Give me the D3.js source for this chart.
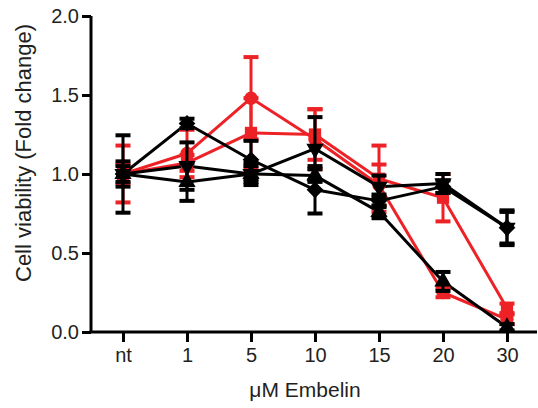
<!DOCTYPE html>
<html>
<head>
<meta charset="utf-8">
<script src="https://cdn.jsdelivr.net/npm/d3@7"></script>
<style>
  html, body { margin: 0; padding: 0; background: #fff; }
  svg { display: block; }
  text { font-family: "Liberation Sans", Arial, Helvetica, sans-serif; fill: #231f20; }
</style>
</head>
<body>
<svg id="chart" width="538" height="408"></svg>
<script>
// ---- Data ----
const categories = ["nt", "1", "5", "10", "15", "20", "30"];
const yTicks = [0.0, 0.5, 1.0, 1.5, 2.0];

const redCircleMean = [1.00, 1.13, 1.48, 1.22, 0.93, 0.25, 0.08];
const redCircleErr  = [0.06, 0.15, 0.26, 0.19, 0.13, 0.03, 0.03];

const redSquareMean = [1.00, 1.07, 1.26, 1.25, 0.97, 0.85, 0.15];
const redSquareErr  = [0.18, 0.05, 0.22, 0.16, 0.21, 0.15, 0.03];

const blackDiamondMean = [1.00, 1.32, 1.09, 0.90, 0.83, 0.92, 0.66];
const blackDiamondErr  = [0.08, 0.03, 0.12, 0.15, 0.04, 0.04, 0.11];

const blackDownMean = [1.00, 1.05, 1.00, 1.16, 0.92, 0.94, 0.66];
const blackDownErr  = [0.245, 0.15, 0.05, 0.20, 0.07, 0.06, 0.10];

const blackUpMean = [1.00, 0.95, 1.00, 0.99, 0.76, 0.32, 0.03];
const blackUpErr  = [0.05, 0.12, 0.07, 0.04, 0.04, 0.06, 0.02];

const RED = "#ed2227";
const BLACK = "#000000";

const series = [
  { mean: redSquareMean, err: redSquareErr, color: RED, shape: "square" },
  { mean: redCircleMean, err: redCircleErr, color: RED, shape: "circle" },
  { mean: blackUpMean, err: blackUpErr, color: BLACK, shape: "up" },
  { mean: blackDownMean, err: blackDownErr, color: BLACK, shape: "down" },
  { mean: blackDiamondMean, err: blackDiamondErr, color: BLACK, shape: "diamond" }
];

// ---- Layout ----
const svg = d3.select("#chart");
const x = d3.scalePoint().domain(categories).range([123, 507]);
const y = d3.scaleLinear().domain([0, 2]).range([332, 16]);
const axisLeftX = 91;
const axisY = 332;

// Axes
const yAxis = d3.axisLeft(y).tickValues(yTicks).tickFormat(d3.format(".1f")).tickSize(9).tickPadding(3);
const gy = svg.append("g").attr("transform", `translate(${axisLeftX},0)`).call(yAxis);
gy.select(".domain").attr("stroke", "#000").attr("stroke-width", 3).attr("d", `M0,${y(2)}V${axisY}`);
gy.selectAll(".tick line").attr("stroke", "#000").attr("stroke-width", 3);
gy.selectAll(".tick text").attr("font-size", 20).attr("fill", "#231f20")
  .style("font-family", '"Liberation Sans", Arial, sans-serif');

const xAxis = d3.axisBottom(x).tickSize(10).tickPadding(6);
const gx = svg.append("g").attr("transform", `translate(0,${axisY})`).call(xAxis);
gx.select(".domain").attr("stroke", "#000").attr("stroke-width", 3).attr("d", `M${axisLeftX - 1.5},0H537`);
gx.selectAll(".tick line").attr("stroke", "#000").attr("stroke-width", 3);
gx.selectAll(".tick text").attr("font-size", 20).attr("fill", "#231f20")
  .style("font-family", '"Liberation Sans", Arial, sans-serif');

// Titles
svg.append("text")
  .attr("x", 305).attr("y", 397)
  .attr("text-anchor", "middle").attr("font-size", 21)
  .text("μM Embelin");
svg.append("text")
  .attr("transform", "translate(31,153) rotate(-90)")
  .attr("text-anchor", "middle").attr("font-size", 22)
  .text("Cell viability (Fold change)");

// Lines
const lineGen = d3.line().x((d, i) => x(categories[i])).y(d => y(d));
const plot = svg.append("g");
series.forEach(s => {
  plot.append("path").datum(s.mean)
    .attr("d", lineGen)
    .attr("fill", "none").attr("stroke", s.color).attr("stroke-width", 3)
    .attr("stroke-linejoin", "round");
});

// Error bars and markers
const capW = 15;
function symbolFor(shape) {
  if (shape === "circle") return d3.symbol().type(d3.symbolCircle).size(140)();
  if (shape === "square") return d3.symbol().type(d3.symbolSquare).size(150)();
  if (shape === "diamond") return d3.symbol().type(d3.symbolSquare).size(140)();
  return d3.symbol().type(d3.symbolTriangle).size(130)();
}
function rotFor(shape) {
  if (shape === "diamond") return 45;
  if (shape === "down") return 180;
  return 0;
}
series.forEach(s => {
  const g = plot.append("g");
  s.mean.forEach((m, i) => {
    const cx = x(categories[i]);
    const top = y(m + s.err[i]);
    const bot = y(m - s.err[i]);
    g.append("line").attr("x1", cx).attr("x2", cx).attr("y1", top).attr("y2", bot)
      .attr("stroke", s.color).attr("stroke-width", 3);
    [top, bot].forEach(yy => {
      g.append("line").attr("x1", cx - capW / 2).attr("x2", cx + capW / 2)
        .attr("y1", yy).attr("y2", yy)
        .attr("stroke", s.color).attr("stroke-width", 4);
    });
  });
  g.selectAll("path.m").data(s.mean).enter().append("path")
    .attr("class", "m")
    .attr("d", symbolFor(s.shape))
    .attr("transform", (d, i) => `translate(${x(categories[i])},${y(d)}) rotate(${rotFor(s.shape)})`)
    .attr("fill", s.color);
});
</script>
</body>
</html>
